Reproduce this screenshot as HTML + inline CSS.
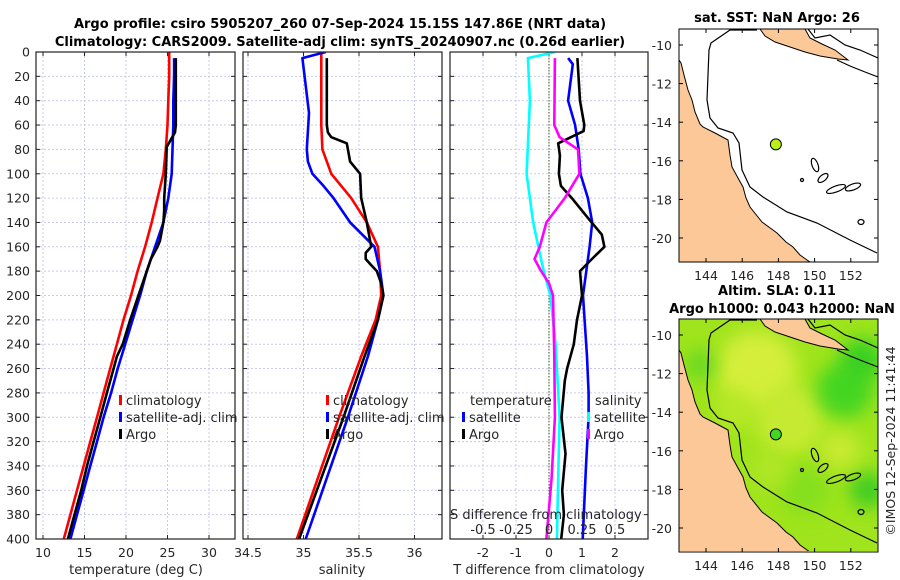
<!DOCTYPE html>
<html><head><meta charset="utf-8"><style>
body{margin:0;background:#fff;}
svg{display:block;font-family:"DejaVu Sans","Liberation Sans",sans-serif;}
</style></head><body>
<svg id="chart" width="900" height="580" viewBox="0 0 900 580" xmlns="http://www.w3.org/2000/svg">
<defs>
<clipPath id="c1"><rect x="36" y="52" width="199" height="487"/></clipPath>
<clipPath id="c2"><rect x="243" y="52" width="199" height="487"/></clipPath>
<clipPath id="c3"><rect x="450" y="52" width="198" height="487"/></clipPath>
<clipPath id="m1"><rect x="679" y="29" width="199" height="233"/></clipPath>
<clipPath id="m2"><rect x="679" y="319" width="199" height="232"/></clipPath>
<filter id="blur" x="-50%" y="-50%" width="200%" height="200%"><feGaussianBlur stdDeviation="9"/></filter>
</defs>
<text x="340" y="28" text-anchor="middle" font-weight="bold" font-size="13">Argo profile: csiro 5905207_260 07-Sep-2024 15.15S 147.86E (NRT data)</text>
<text x="340" y="46" text-anchor="middle" font-weight="bold" font-size="13">Climatology: CARS2009. Satellite-adj clim: synTS_20240907.nc (0.26d earlier)</text>
<g id="g"></g>
</svg>
<script>
// ---- data ----
const depthTicks=[0,20,40,60,80,100,120,140,160,180,200,220,240,260,280,300,320,340,360,380,400];
const tTicks=[10,15,20,25,30];
const sTicks=[34.5,35,35.5,36];
const dTTicks=[-2,-1,0,1,2];
const dSTicks=[-0.5,-0.25,0,0.25,0.5];
const dSTickLabels=["-0.5","-0.25","0","0.25","0.5"];
const lonTicks=[144,146,148,150,152];
const latTicks=[-10,-12,-14,-16,-18,-20];

const climT_z=[0,20,40,60,80,100,120,140,160,180,200,220,240,260,280,300,320,340,360,380,400];
const climT=[25.2,25.2,25.1,25.0,24.8,24.5,23.8,23.1,22.3,21.4,20.6,19.7,18.9,18.1,17.3,16.5,15.7,14.9,14.1,13.3,12.5];
const satT_z=[5,20,40,60,80,100,120,140,160,180,200,220,240,260,280,300,320,340,360,380,400];
const satT=[25.8,25.8,25.7,25.7,25.6,25.5,25.1,24.5,23.5,22.5,21.7,20.8,19.9,19.0,18.2,17.3,16.5,15.7,14.9,14.1,13.3];
const argoT_z=[5,20,40,60,66,72,78,100,120,130,140,155,160,170,180,200,220,240,250,260,280,300,320,340,360,380,400];
const argoT=[26.0,26.0,26.0,26.0,25.9,25.4,24.9,24.8,24.6,24.6,24.5,24.1,23.8,23.0,22.5,21.5,20.5,19.6,18.9,18.5,17.7,16.9,16.1,15.3,14.6,13.8,13.0];

const climS_z=[0,60,80,100,120,140,160,180,200,220,250,300,350,400];
const climS=[35.16,35.16,35.17,35.25,35.43,35.57,35.67,35.69,35.70,35.65,35.52,35.32,35.13,34.94];
const satS_z=[0,5,50,80,90,100,110,120,140,160,180,200,220,250,300,350,400];
const satS=[35.2,34.99,35.05,35.03,35.04,35.08,35.18,35.27,35.42,35.64,35.69,35.72,35.67,35.58,35.40,35.21,35.02];
const argoS_z=[5,60,66,70,75,80,90,100,120,140,155,160,165,170,175,180,190,200,220,250,300,350,400];
const argoS=[35.21,35.21,35.22,35.25,35.39,35.40,35.42,35.51,35.52,35.57,35.60,35.61,35.56,35.56,35.61,35.66,35.70,35.72,35.67,35.55,35.36,35.16,34.96];

const dTsat_z=[5,10,40,60,80,100,120,140,160,180,200,220,250,280,300,340,400];
const dTsat=[0.58,0.72,0.58,0.79,0.9,0.95,1.18,1.31,1.23,1.13,1.03,1.08,1.15,1.2,1.2,1.12,1.02];
const dTargo_z=[5,40,60,65,75,85,100,110,120,140,150,160,170,180,190,200,220,240,260,270,300,330,360,380,400];
const dTargo=[0.86,0.94,1.07,1.05,0.28,0.33,0.3,0.36,0.69,1.29,1.6,1.68,1.3,0.94,0.97,1.0,0.85,0.75,0.55,0.48,0.38,0.5,0.4,0.45,0.37];
const dSsat_z=[0,5,40,100,140,160,180,200,240,300,350,400];
const dSsat=[0.045,-0.16,-0.145,-0.17,-0.12,-0.08,-0.04,0.01,0.05,0.08,0.07,0.06];
const dSargo_z=[5,60,70,80,100,120,140,160,170,180,190,200,250,300,350,400];
const dSargo=[0.045,0.04,0.08,0.22,0.23,0.12,-0.02,-0.07,-0.11,-0.06,0,0.03,0.04,0.045,0.02,-0.02];

const floatLon=[147.86], floatLat=[-15.15];

// ---- helpers ----
const NS="http://www.w3.org/2000/svg";
const G=document.getElementById('g');
function mk(tag,attrs,parent){const e=document.createElementNS(NS,tag);for(const k in attrs)e.setAttribute(k,attrs[k]);(parent||G).appendChild(e);return e;}
const Y0=52,Y1=539;
const yD=d=>Y0+(d/400)*(Y1-Y0);
const xT=v=>43+(v-10)*8.3;
const xS=v=>248+(v-34.5)*111;
const xDT=v=>549+v*33;
const xDS=v=>549+v*132;

function panel(x0,x1,xticksPx,name,showY){
  const g=mk('g',{});
  
  
  xticksPx.forEach(px=>{const l=mk('line',{x1:px,x2:px,y1:Y0,y2:Y1,stroke:'#c9c9ee','stroke-width':1,'stroke-dasharray':'2,2'},g);});
  depthTicks.forEach(d=>{const y=yD(d);
    const l=mk('line',{x1:x0,x2:x1,y1:y,y2:y,stroke:'#c9c9ee','stroke-width':1,'stroke-dasharray':'2,2'},g);
    mk('line',{x1:x0,x2:x0+4,y1:y,y2:y,stroke:'#222'},g);mk('line',{x1:x1-4,x2:x1,y1:y,y2:y,stroke:'#222'},g);
    if(showY){const t=mk('text',{x:x0-6,y:y+4.5,'text-anchor':'end','font-size':12.5,fill:'#262626'},g);t.textContent=d;}
  });
  xticksPx.forEach(px=>{mk('line',{x1:px,x2:px,y1:Y1,y2:Y1-4,stroke:'#222'},g);mk('line',{x1:px,x2:px,y1:Y0,y2:Y0+4,stroke:'#222'},g);});
  return g;
}
function frame(x0,x1,name){const r=mk('rect',{x:x0,y:Y0,width:x1-x0,height:Y1-Y0,fill:'none',stroke:'#222','stroke-width':1.2});}
function line(xs,zs,fx,color,clip,name,w){
  const pts=xs.map((v,i)=>fx(v).toFixed(1)+','+yD(zs[i]).toFixed(1)).join(' ');
  const p=mk('polyline',{points:pts,fill:'none',stroke:color,'stroke-width':w||2.6,'stroke-linejoin':'round','clip-path':'url(#'+clip+')'});
  
}
function txt(x,y,s,o,name){const t=mk('text',Object.assign({x:x,y:y,'font-size':13,fill:'#262626'},o||{}));t.textContent=s;return t;}
function legend(x,y,color,label,name){const r=mk('rect',{x:x,y:y-10,width:3,height:10,fill:color});txt(x+7,y,label,{},name);}

// ---- panel 1 ----
panel(36,235,tTicks.map(xT),'temperature-panel',true);
tTicks.forEach(v=>txt(xT(v),557,String(v),{'text-anchor':'middle','font-size':12.5},'temperature-tick-label'));
txt(136,574,'temperature (deg C)',{'text-anchor':'middle'},'temperature-axis-title');
line(climT,climT_z,xT,'#ff0000','c1','temp-climatology-line');
line(satT,satT_z,xT,'#0000ff','c1','temp-satellite-line');
line(argoT,argoT_z,xT,'#000000','c1','temp-argo-line');
frame(36,235,'temperature-panel-frame');
legend(119,405,'#ff0000','climatology','legend-climatology');
legend(119,422,'#0000ff','satellite-adj. clim','legend-satellite');
legend(119,439,'#000000','Argo','legend-argo');

// ---- panel 2 ----
panel(243,442,sTicks.map(xS),'salinity-panel',false);
sTicks.forEach(v=>txt(xS(v),557,String(v),{'text-anchor':'middle','font-size':12.5},'salinity-tick-label'));
txt(342,574,'salinity',{'text-anchor':'middle'},'salinity-axis-title');
line(climS,climS_z,xS,'#ff0000','c2','sal-climatology-line');
line(satS,satS_z,xS,'#0000ff','c2','sal-satellite-line');
line(argoS,argoS_z,xS,'#000000','c2','sal-argo-line');
frame(243,442,'salinity-panel-frame');
legend(326,405,'#ff0000','climatology','legend2-climatology');
legend(326,422,'#0000ff','satellite-adj. clim','legend2-satellite');
legend(326,439,'#000000','Argo','legend2-argo');

// ---- panel 3 ----
panel(450,648,dTTicks.map(xDT),'difference-panel',false);
const zl=mk('line',{x1:xDT(0),x2:xDT(0),y1:Y0,y2:Y1,stroke:'#3a5a1a','stroke-width':1,'stroke-dasharray':'1.5,1.5'});

dTTicks.forEach(v=>txt(xDT(v),557,String(v),{'text-anchor':'middle','font-size':12.5},'dT-tick-label'));
txt(549,574,'T difference from climatology',{'text-anchor':'middle'},'dT-axis-title');
line(dSsat,dSsat_z,xDS,'#00ffff','c3','dS-satellite-line');
line(dTsat,dTsat_z,xDT,'#0000ff','c3','dT-satellite-line');
line(dTargo,dTargo_z,xDT,'#000000','c3','dT-argo-line');
line(dSargo,dSargo_z,xDS,'#ff00ff','c3','dS-argo-line');
frame(450,648,'difference-panel-frame');
txt(470,405,'temperature',{},'legend-temperature-header');
legend(462,422,'#0000ff','satellite','legend3-t-satellite');
legend(462,439,'#000000','Argo','legend3-t-argo');
txt(595,405,'salinity',{},'legend-salinity-header');
legend(587,422,'#00ffff','satellite','legend3-s-satellite');
legend(587,439,'#ff00ff','Argo','legend3-s-argo');
txt(450,519,'S difference from climatology',{},'dS-axis-title');
dSTicks.forEach((v,i)=>txt(xDS(v),534,dSTickLabels[i],{'text-anchor':'middle'},'dS-tick-label'));

// ---- maps ----
const xLon=v=>706+(v-144)*18.1;
const yLat=(v,top)=>top+16+(-10-v)*19.3;
const coastL=[[679,60],[681,63],[684,75],[688,90],[692,100],[695,112],[700,124],[703,127],[715,133],[728,140],[730,155],[732,167],[738,178],[743,187],[746,198],[750,207],[762,222],[777,233],[786,242],[793,247],[800,255],[807,260],[810,262],[679,262]];
const pngL=[[760,29],[765,36],[775,42],[790,47],[805,52],[820,56],[838,59],[848,60],[835,50],[822,44],[810,38],[805,29]];
const reef=[[757,30],[730,30],[711,43],[709,50],[707,100],[710,118],[718,128],[733,133],[739,143],[742,170],[750,187],[763,197],[787,212],[817,223],[850,240],[877,253]];
const reef2=[[837,60],[850,66],[865,72],[878,77]];
const reef3=[[808,29],[815,38],[830,35],[845,45],[860,50],[878,58]];
const islands=[[815,165,3,7,-20],[823,178,6,3,-40],[836,189,10,3,-20],[853,187,8,3,-20],[861,222,3,2.5,0],[802,180,1.5,1.5,0]];
function pts(a,dy){return a.map(p=>p[0]+','+(p[1]+dy)).join(' ');}
function map(dy,clip,name,sla){
  const g=mk('g',{'clip-path':'url(#'+clip+')'});
  
  mk('rect',{x:679,y:29+dy,width:199,height:233,fill:sla?'#9fe41c':'#fff'},g);
  if(sla){
    [[757,80,40,'#d4ee3a'],[790,130,35,'#c6ea30'],[845,100,28,'#44d624'],[862,70,22,'#38d020'],[868,200,18,'#3ccc22'],[805,200,25,'#86e01a'],[840,160,20,'#c8ea30'],[735,120,20,'#b8e828'],[700,75,15,'#66d820'],[770,180,18,'#b0e628']].forEach(b=>{
      const c=mk('circle',{cx:b[0],cy:b[1]+dy,r:b[2],fill:b[3],filter:'url(#blur)'},g);});
  }
  const l1=mk('polygon',{points:pts(coastL,dy),fill:'#fdc897',stroke:'#000','stroke-width':1},g);
  const l2=mk('polygon',{points:pts(pngL,dy),fill:'#fdc897',stroke:'#000','stroke-width':1},g);
  [reef,reef2,reef3].forEach((r,i)=>{const p=mk('polyline',{points:pts(r,dy),fill:'none',stroke:'#000','stroke-width':1.2},g);});
  islands.forEach(s=>{const e=mk('ellipse',{cx:s[0],cy:s[1]+dy,rx:s[2],ry:s[3],transform:'rotate('+s[4]+' '+s[0]+' '+(s[1]+dy)+')',fill:'none',stroke:'#000','stroke-width':1.2},g);});
  const top=29+dy;
  floatLon.forEach((lo,i)=>{const c=mk('circle',{cx:xLon(lo),cy:yLat(floatLat[i],top),r:5.5,fill:sla?'#44d624':'#b8f018',stroke:'#000','stroke-width':1});});
  const fr=mk('rect',{x:679,y:top,width:199,height:233,fill:'none',stroke:'#000','stroke-width':1});
  latTicks.forEach(v=>{const y=yLat(v,top);mk('line',{x1:679,x2:683,y1:y,y2:y,stroke:'#000'});mk('line',{x1:874,x2:878,y1:y,y2:y,stroke:'#000'});txt(672,y+5,String(v),{'text-anchor':'end','font-size':12.5},'latitude-tick-label');});
  lonTicks.forEach(v=>{const x=xLon(v);mk('line',{x1:x,x2:x,y1:top+233,y2:top+229,stroke:'#000'});mk('line',{x1:x,x2:x,y1:top,y2:top+4,stroke:'#000'});txt(x,top+251,String(v),{'text-anchor':'middle','font-size':12.5},'longitude-tick-label');});
}
map(0,'m1','sst-map',false);
map(290,'m2','sla-map',true);
txt(777,22,'sat. SST: NaN Argo: 26',{'text-anchor':'middle','font-weight':'bold','fill':'#000'},'sst-map-title');
txt(777,295,'Altim. SLA: 0.11',{'text-anchor':'middle','font-weight':'bold','fill':'#000'},'sla-map-title');
txt(782,313,'Argo h1000: 0.043 h2000: NaN',{'text-anchor':'middle','font-weight':'bold','fill':'#000'},'sla-map-subtitle');
txt(0,0,'©IMOS 12-Sep-2024 11:41:44',{'text-anchor':'middle','transform':'translate(895,441) rotate(-90)','font-size':12.5},'imos-timestamp');
</script>
</body></html>
